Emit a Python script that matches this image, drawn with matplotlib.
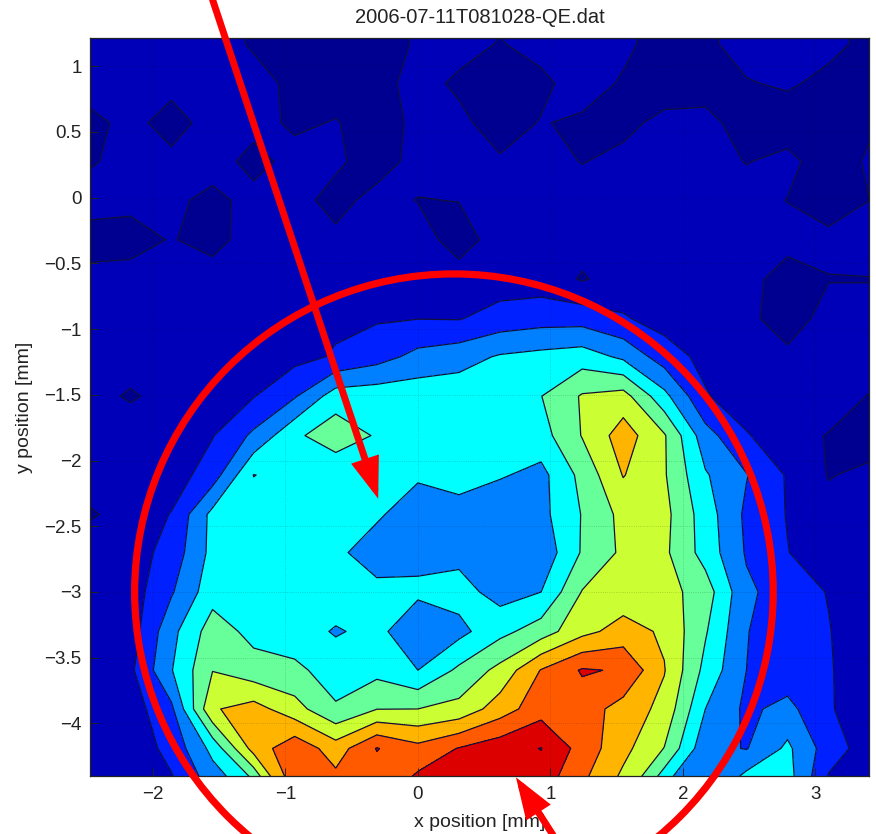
import numpy as np
import matplotlib
matplotlib.use('Agg')
import matplotlib.pyplot as plt
from matplotlib.patches import Ellipse

plt.rcParams['font.family'] = ['Liberation Sans', 'DejaVu Sans']

title = '2006-07-11T081028-QE.dat'

x_pos = [-2.48, -2.17, -1.86, -1.55, -1.24, -0.93, -0.62, -0.31, 0.0, 0.31,
         0.62, 0.93, 1.24, 1.55, 1.86, 2.17, 2.48, 2.79, 3.10, 3.41]
y_pos = [1.46, 1.17, 0.87, 0.57, 0.275, -0.02, -0.32, -0.62, -0.92, -1.21, -1.51,
         -1.81, -2.11, -2.41, -2.70, -3.0, -3.30, -3.595, -3.89, -4.19, -4.49]

# QE map, one row per y position (arbitrary units)
qe = [
    [1.5, 1.5, 1.5, 1.4, .9, .6, .6, .6, 1.1, 1.3, 1.2, 1.3, 1.5, 1.2, .6, .85, 1.3, 1.4, 1.2, .8],
    [1.5, 1.5, 1.5, 1.4, .9, .6, .6, .6, 1.1, 1.3, .95, 1.3, 1.5, 1.2, .6, .85, 1.3, 1.4, 1.2, .8],
    [1.5, 1.4, 1.3, 1.4, 1.3, .8, .6, .7, 1.3, .85, .6, .8, 1.4, .9, .6, .7, .95, 1.1, .8, .7],
    [.7, 1.3, .6, 1.4, 1.3, .85, 1.05, .6, 1.2, 1.2, .6, 1.05, .85, .8, 1.2, 1.2, .7, .6, .7, .9],
    [.9, 1.3, 1.25, 1.4, .7, 1.3, 1.15, .6, 1.3, 1.3, 1.1, 1.3, .97, 1.2, 1.4, 1.3, .97, 1.2, .6, 1.1],
    [1.4, 1.2, 1.2, .75, 1.3, 1.3, .7, 1.3, .97, 1.02, 1.4, 1.4, 1.4, 1.5, 1.5, 1.4, 1.3, .98, .6, 1.0],
    [.6, .7, 1.05, .7, 1.4, 1.3, 1.2, 1.4, 1.4, .6, 1.4, 1.4, 1.3, 1.5, 1.5, 1.4, 1.3, 1.3, 1.2, 1.3],
    [1.3, 1.3, 1.4, 1.4, 1.5, 1.5, 1.5, 1.5, 1.5, 1.4, 1.5, 1.5, .92, 1.4, 1.5, 1.4, 1.3, .6, .97, .98],
    [1.5, 1.5, 1.5, 1.5, 1.6, 1.7, 1.8, 1.9, 1.98, 1.95, 2.4, 2.6, 2.6, 2.1, 1.6, 1.5, 1.2, .6, 1.3, 1.2],
    [1.4, 1.4, 1.4, 1.5, 1.6, 1.7, 2.1, 2.6, 3.3, 3.6, 4.1, 4.3, 4.5, 3.8, 2.5, 1.7, 1.3, 1.18, 1.3, 1.3],
    [1.3, .9, 1.3, 1.6, 1.95, 2.9, 4.5, 4.6, 4.6, 4.6, 4.6, 4.98, 6.1, 6.4, 4.3, 2.1, 1.3, 1.2, 1.3, .97],
    [1.5, 1.5, 1.6, 1.95, 3.2, 4.8, 5.6, 4.9, 4.6, 4.5, 4.4, 4.6, 6.05, 7.5, 6.1, 3.4, 2.1, 1.2, .97, .6],
    [1.4, 1.5, 1.5, 2.5, 5.02, 4.7, 4.2, 4.4, 4.2, 4.3, 4.1, 3.7, 5.3, 7.05, 6.1, 4.1, 3.05, 1.9, .95, 1.2],
    [.9, 1.3, 2.05, 4.3, 4.6, 4.6, 4.5, 4.2, 3.2, 3.7, 3.2, 3.7, 5.05, 6.3, 6.3, 4.5, 2.8, 1.95, 1.3, 1.4],
    [1.5, 1.5, 2.4, 4.3, 4.7, 4.7, 4.3, 3.3, 3.7, 3.7, 3.1, 3.3, 5.1, 6.2, 6.2, 4.6, 2.9, 2.03, 1.4, 1.5],
    [1.4, 1.5, 2.9, 4.6, 4.7, 4.7, 4.6, 4.4, 4.2, 4.4, 3.6, 4.0, 6.05, 6.4, 6.4, 5.5, 3.2, 2.5, 1.95, 1.3],
    [1.4, 1.5, 3.7, 5.5, 4.7, 4.5, 3.9, 4.3, 3.2, 3.7, 4.7, 5.5, 6.7, 7.4, 6.85, 5.1, 3.05, 2.3, 2.05, 1.3],
    [1.3, 1.8, 3.95, 5.97, 5.4, 5.2, 4.6, 4.7, 4.0, 5.2, 6.3, 8.05, 9.1, 8.9, 7.05, 4.7, 3.0, 2.4, 2.1, 1.3],
    [1.3, 1.5, 2.8, 6.9, 7.4, 6.4, 5.1, 5.98, 6.0, 6.3, 7.5, 8.6, 8.5, 7.6, 6.7, 4.0, 2.8, 3.3, 2.1, 1.4],
    [1.3, 1.4, 2.3, 4.3, 7.4, 8.7, 7.5, 9.05, 8.3, 9.05, 9.6, 10.03, 8.6, 7.3, 5.97, 3.3, 2.95, 4.2, 2.5, 1.5],
    [1.3, 1.3, 1.8, 3.3, 4.5, 8.5, 8.5, 8.4, 9.5, 9.6, 9.7, 9.4, 8.05, 6.6, 4.0, 3.3, 4.8, 4.5, 1.7, 1.4],
]

levels = [0, 1, 2, 3, 4, 5, 6, 7, 8, 9, 10, 11]
band_colors = ['#000090', '#0000b8', '#0020ff', '#0080ff', '#00ffff', '#66ff99',
               '#ccff33', '#ffb400', '#ff5a00', '#dc0000', '#a00000']

xticks = [-2, -1, 0, 1, 2, 3]
yticks = [1, 0.5, 0, -0.5, -1, -1.5, -2, -2.5, -3, -3.5, -4]
yticklabels = ['1', '0.5', '0', '\u22120.5', '\u22121', '\u22121.5', '\u22122', '\u22122.5',
               '\u22123', '\u22123.5', '\u22124']

# red marks added on top of the plot
circle_center = (0.272, -3.0)
circle_width = 4.82
circle_height = 4.84
arrow1_tail = (-1.55, 1.507)
arrow1_tip = (-0.30, -2.29)
arrow2_tail = (1.02, -4.85)
arrow2_tip = (0.74, -4.41)

fig = plt.figure(figsize=(8.76, 8.34), dpi=100)
ax = fig.add_axes([90 / 876, 58 / 834, 779 / 876, 738 / 834])

ax.contourf(x_pos, y_pos, np.array(qe), levels=levels, colors=band_colors)
ax.contour(x_pos, y_pos, np.array(qe), levels=levels[1:-1], colors='#10103a', linewidths=0.9)

ax.set_xlim(-2.475, 3.405)
ax.set_ylim(-4.40, 1.215)

# Dotted grid, very faint like the original
ax.grid(visible=True, color='black', linestyle=':', linewidth=0.6, alpha=0.22)
ax.set_axisbelow(False)

ax.set_xticks(xticks)
ax.set_yticks(yticks)
ax.set_yticklabels(yticklabels)
ax.tick_params(direction='in', length=6, width=0.7, labelsize=13.5, colors='#222222', pad=7)
ax.tick_params(axis='y', pad=6)

for s in ['top', 'bottom', 'left', 'right']:
    ax.spines[s].set_linewidth(0.9)
    ax.spines[s].set_color('#222222')

ax.set_title(title, fontsize=14.5, color='#222222', pad=11, x=0.501)
ax.set_xlabel('x position [mm]', fontsize=14, color='#222222', labelpad=8)
ax.set_ylabel('y position [mm]', fontsize=14, color='#222222', labelpad=8)

ax.add_patch(Ellipse(circle_center, circle_width, circle_height, fill=False,
                     edgecolor='#ff0000', linewidth=5.2, clip_on=False, zorder=10))

for tail, tip in [(arrow1_tail, arrow1_tip), (arrow2_tail, arrow2_tip)]:
    ax.annotate('', xy=tip, xytext=tail, annotation_clip=False, zorder=11,
                arrowprops=dict(arrowstyle='-|>,head_length=2.0,head_width=0.7',
                                mutation_scale=10, color='#ff0000', lw=5,
                                shrinkA=0, shrinkB=0, joinstyle='miter'))

fig.savefig('out.png', dpi=100)
